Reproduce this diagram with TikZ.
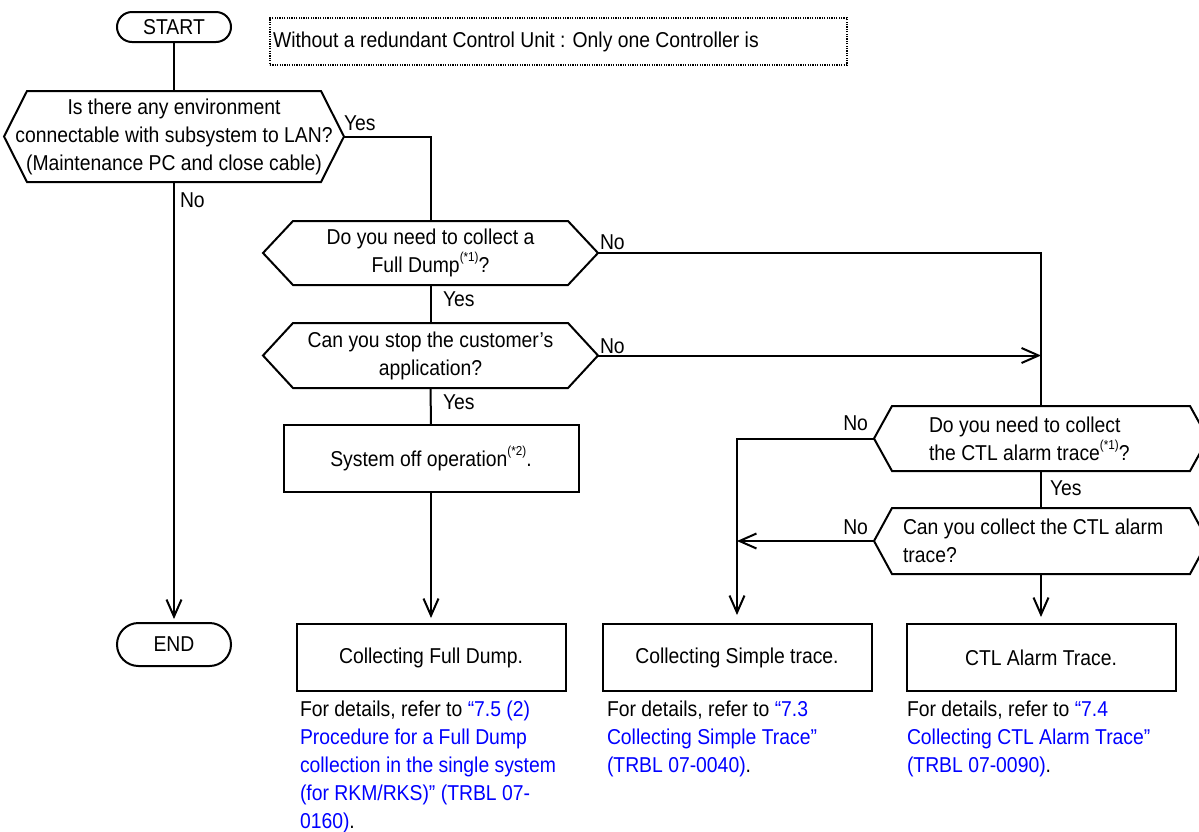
\documentclass[tikz,border=0pt]{standalone}
\usepackage{fontspec}
\setmainfont{Liberation Sans}[FakeStretch=0.9]
\usetikzlibrary{arrows.meta,shapes.misc}
\definecolor{lnk}{RGB}{0,0,255}
\newcommand\supx[1]{\raisebox{0.5em}{\fontsize{13pt}{13pt}\selectfont #1}}
\newcommand\hexdraw[2]{\draw[ln] (#1.west) -- ([xshift=#2pt]#1.north west) -- ([xshift=-#2pt]#1.north east) -- (#1.east) -- ([xshift=-#2pt]#1.south east) -- ([xshift=#2pt]#1.south west) -- cycle;}
\begin{document}
\begin{tikzpicture}[x=1pt,y=-1pt,
  every node/.style={font=\fontsize{21.5pt}{28pt}\selectfont, inner sep=0pt, outer sep=0pt},
  ln/.style={line width=2pt, line join=miter},
  arr/.style={ln, -{Straight Barb[length=17pt,width=15pt,line width=2pt]}},
  term/.style={rounded rectangle, draw, ln, minimum width=114pt},
  procbox/.style={rectangle, draw, ln, minimum height=67pt},
  hexn/.style={rectangle, align=center},
  notebox/.style={rectangle, draw, line width=1.2pt, dash pattern=on 1.2pt off 1.2pt},
  desc/.style={anchor=north west, align=left, font=\fontsize{21.5pt}{28pt}\selectfont}]
\useasboundingbox (0,0) rectangle (1199,831);

\node[term, minimum height=30pt] (start) at (174,27) {START};
\node[notebox, anchor=north west, minimum height=47pt, minimum width=577pt] (note) at (270,18) {};
\node[anchor=west] (notetext) at ([xshift=3pt]note.west) {Without a redundant Control Unit : Only one Controller is};

\node[hexn, minimum width=340pt, minimum height=91pt] (h1) at (174,136.5) {Is there any environment\\connectable with subsystem to LAN?\\(Maintenance PC and close cable)};
\hexdraw{h1}{23}
\node[hexn, minimum width=335pt, minimum height=64pt] (h2) at (430.5,253) {Do you need to collect a\\Full Dump\supx{(*1)}?};
\hexdraw{h2}{30}
\node[hexn, minimum width=335pt, minimum height=65pt] (h3) at (430.5,355.5) {Can you stop the customer’s\\application?};
\hexdraw{h3}{30}
\node[rectangle, minimum width=334pt, minimum height=65pt] (h4) at (1041,438.5) {};
\hexdraw{h4}{18}
\node[anchor=west, align=left] (h4text) at ([xshift=55pt]h4.west) {Do you need to collect\\the CTL alarm trace\supx{(*1)}?};
\node[rectangle, minimum width=334pt, minimum height=66pt] (h5) at (1041,541) {};
\hexdraw{h5}{18}
\node[anchor=west, align=left] (h5text) at ([xshift=29pt]h5.west) {Can you collect the CTL alarm\\trace?};

\node[procbox, minimum width=295pt] (sysoff) at (431,458.5) {System off operation\supx{(*2)}.};
\node[procbox, minimum width=269pt] (full) at (431,657.5) {Collecting Full Dump.};
\node[procbox, minimum width=269pt] (simple) at (737,657.5) {Collecting Simple trace.};
\node[procbox, minimum width=269pt] (ctl) at (1041,657.5) {CTL Alarm Trace.};
\node[term, minimum height=43pt] (end) at (174,644.5) {END};

\node[anchor=west] (y1) at (344,123) {Yes};
\node[anchor=west] (n1) at (180,200) {No};
\node[anchor=west] (n2) at (600,242) {No};
\node[anchor=west] (y2) at (443,299) {Yes};
\node[anchor=west] (n3) at (600,346) {No};
\node[anchor=west] (y3) at (443,402) {Yes};
\node[anchor=east] (n4) at (868,423) {No};
\node[anchor=west] (y4) at (1050,488) {Yes};
\node[anchor=east] (n5) at (868,527) {No};

\node[desc] (d1) at (300,701) {For details, refer to \textcolor{lnk}{“7.5 (2)}\\\textcolor{lnk}{Procedure for a Full Dump}\\\textcolor{lnk}{collection in the single system}\\\textcolor{lnk}{(for RKM/RKS)” (TRBL 07-}\\\textcolor{lnk}{0160)}.};
\node[desc] (d2) at (607,701) {For details, refer to \textcolor{lnk}{“7.3}\\\textcolor{lnk}{Collecting Simple Trace”}\\\textcolor{lnk}{(TRBL 07-0040)}.};
\node[desc] (d3) at (907,701) {For details, refer to \textcolor{lnk}{“7.4}\\\textcolor{lnk}{Collecting CTL Alarm Trace”}\\\textcolor{lnk}{(TRBL 07-0090)}.};

\draw[ln] (start) -- (h1);
\draw[arr, shorten >=4pt] (h1) -- (end);
\draw[ln] (h1.east) -| (h2.north);
\draw[ln] (h2) -- (h3);
\draw[ln] (h3) -- (sysoff);
\draw[arr, shorten >=6pt] (sysoff) -- (full);
\draw[ln] (h2.east) -| (h4.north);
\draw[arr] (h3.east) -- (h3.east -| h4.north);
\draw[ln] (h4) -- (h5);
\draw[arr, shorten >=9pt] (h4.west) -| (simple.north);
\draw[arr] (h5.west) -- (h5.west -| simple.north);
\draw[arr, shorten >=7pt] (h5) -- (ctl);
\end{tikzpicture}
\end{document}
